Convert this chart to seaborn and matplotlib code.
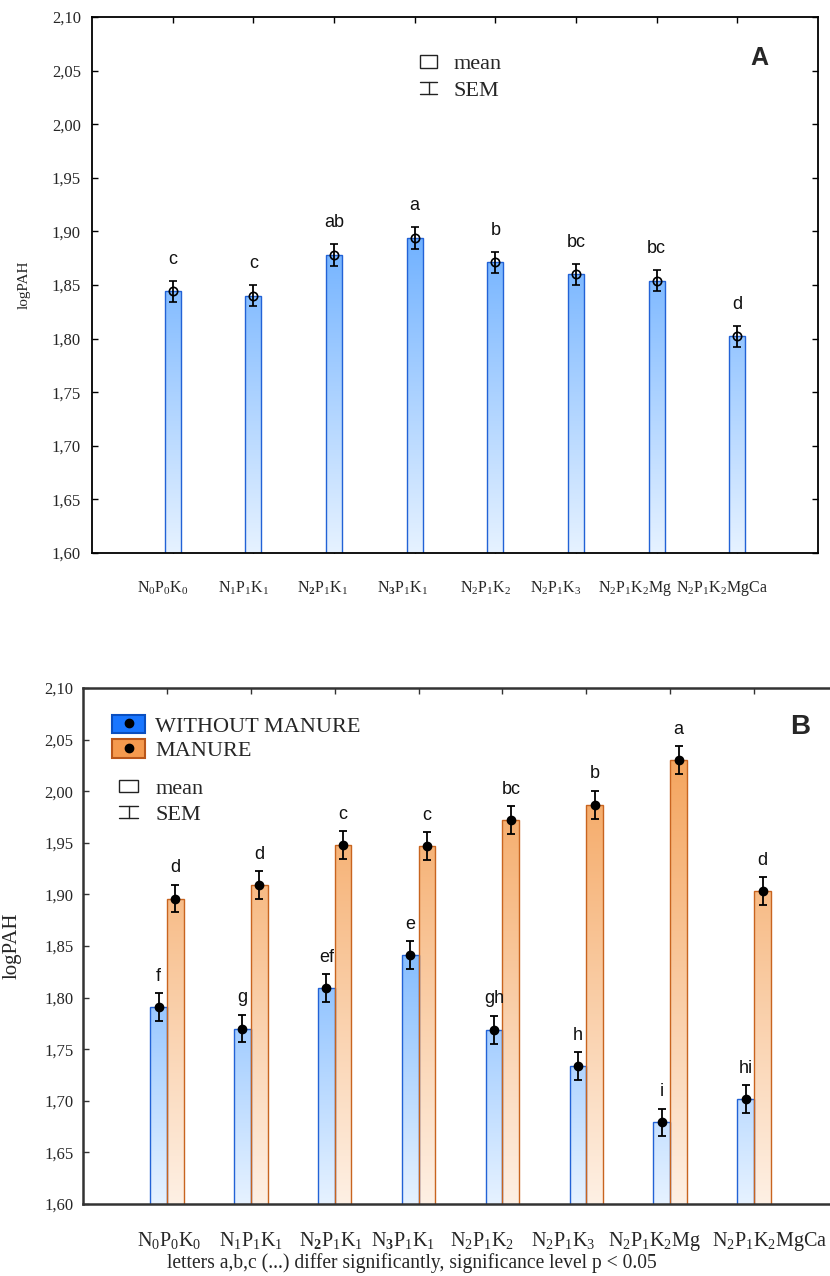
import numpy as np
import pandas as pd
import matplotlib
matplotlib.use("Agg")
import matplotlib.pyplot as plt
import seaborn as sns
from matplotlib.patches import Patch
from matplotlib.lines import Line2D
from matplotlib.ticker import FuncFormatter
from matplotlib.transforms import ScaledTranslation
from matplotlib.legend_handler import HandlerTuple, HandlerBase

# ---------------- data ----------------
categories = ["N0P0K0", "N1P1K1", "N2P1K1", "N3P1K1",
              "N2P1K2", "N2P1K3", "N2P1K2Mg", "N2P1K2MgCa"]
tick_labels = [r"$\mathrm{N_0P_0K_0}$", r"$\mathrm{N_1P_1K_1}$",
               r"$\mathrm{N}_{\mathbf{2}}\mathrm{P_1K_1}$",
               r"$\mathrm{N}_{\mathbf{3}}\mathrm{P_1K_1}$",
               r"$\mathrm{N_2P_1K_2}$", r"$\mathrm{N_2P_1K_3}$",
               r"$\mathrm{N_2P_1K_2Mg}$", r"$\mathrm{N_2P_1K_2MgCa}$"]

# panel A
a_mean = [1.844, 1.840, 1.878, 1.894, 1.871, 1.860, 1.854, 1.802]
a_sem = [0.010, 0.010, 0.010, 0.010, 0.010, 0.010, 0.010, 0.0095]
a_letters = ["c", "c", "ab", "a", "b", "bc", "bc", "d"]

# panel B
groups = ["WITHOUT MANURE", "MANURE"]
wo_mean = [1.791, 1.770, 1.809, 1.841, 1.769, 1.734, 1.679, 1.702]
wo_sem = [0.0135, 0.0135, 0.0135, 0.0135, 0.0135, 0.0135, 0.0135, 0.0135]
wo_letters = ["f", "g", "ef", "e", "gh", "h", "i", "hi"]
m_mean = [1.896, 1.909, 1.948, 1.947, 1.972, 1.987, 2.030, 1.903]
m_sem = [0.0135, 0.0135, 0.0135, 0.0135, 0.0135, 0.0135, 0.0135, 0.0135]
m_letters = ["d", "d", "c", "c", "bc", "b", "a", "d"]

y_ticks = [1.60, 1.65, 1.70, 1.75, 1.80, 1.85, 1.90, 1.95, 2.00, 2.05, 2.10]
caption = "letters a,b,c (...) differ significantly, significance level p < 0.05"

# horizontal nudges of the category labels (pixels), as in the original layout
label_dx_a = [-10, -10, -11, -12, -10, -20, -22, -15]
label_dx_b = [2, 0, -4, -15, -20, -23, -16, 16]

# ---------------- style ----------------
sns.set_style("ticks")
plt.rcParams["font.family"] = ["Liberation Serif", "DejaVu Serif"]
plt.rcParams["font.serif"] = ["Liberation Serif", "DejaVu Serif"]
plt.rcParams["mathtext.fontset"] = "custom"
plt.rcParams["mathtext.rm"] = "Liberation Serif"
plt.rcParams["mathtext.it"] = "Liberation Serif:italic"
plt.rcParams["mathtext.bf"] = "Liberation Serif:bold"

W, H = 830, 1276
fig = plt.figure(figsize=(W / 100, H / 100), dpi=100)
fig.patch.set_facecolor("white")

def fig_rect(l, t, r, b):
    return [l / W, 1 - b / H, (r - l) / W, (b - t) / H]

ax1 = fig.add_axes(fig_rect(92, 17, 818, 553))
ax2 = fig.add_axes(fig_rect(83, 688, 838, 1204))

BLUE_LOW = np.array([230, 242, 255]) / 255
BLUE_HIGH = np.array([30, 132, 255]) / 255
OR_LOW = np.array([254, 240, 228]) / 255
OR_HIGH = np.array([243, 153, 73]) / 255
BLUE_EDGE = "#2262d6"
OR_EDGE = "#c8641f"

def add_gradient(ax, bars, c_low, c_high, y0=1.6, y1=2.1):
    g = np.linspace(0, 1, 256)[:, None, None]
    img = c_low[None, None, :] + (c_high - c_low)[None, None, :] * g
    for bar in bars:
        x0 = bar.get_x()
        w = bar.get_width()
        im = ax.imshow(img, extent=[x0, x0 + w, y0, y1], origin="lower",
                       aspect="auto", interpolation="bilinear", zorder=0.9)
        im.set_clip_path(bar)
        bar.set_facecolor("none")
        bar.set_zorder(1.0)

comma_fmt = FuncFormatter(lambda v, p: f"{v:.2f}".replace(".", ","))

class HandlerSEM(HandlerBase):
    def create_artists(self, legend, orig_handle, xdescent, ydescent,
                       width, height, fontsize, trans):
        x0 = -xdescent
        y0 = -ydescent
        xc = x0 + width / 2
        arts = [Line2D([xc, xc], [y0, y0 + height]),
                Line2D([x0, x0 + width], [y0, y0]),
                Line2D([x0, x0 + width], [y0 + height, y0 + height])]
        for a in arts:
            a.set_color("#222222")
            a.set_linewidth(1.0)
            a.set_transform(trans)
        return arts

sem_handle = Line2D([], [])

def style_axis(ax, xlabsize, xpad, dx, spine_color, spine_w):
    ax.set_xlim(-1, 8)
    ax.set_ylim(1.6, 2.1)
    ax.set_yticks(y_ticks)
    ax.yaxis.set_major_formatter(comma_fmt)
    ax.set_xticks(np.arange(len(categories)))
    ax.set_xticklabels(tick_labels, fontsize=xlabsize)
    ax.set_xlabel("")
    ax.tick_params(axis="both", direction="in", length=4, width=1,
                   top=True, right=True, color=spine_color,
                   labelfontfamily="Liberation Serif")
    ax.tick_params(axis="y", labelsize=12)
    ax.tick_params(axis="x", pad=xpad)
    for lab, d in zip(ax.get_xticklabels(), dx):
        lab.set_transform(lab.get_transform() +
                          ScaledTranslation(d / 100, 0, fig.dpi_scale_trans))
    for sp in ax.spines.values():
        sp.set_linewidth(spine_w)
        sp.set_color(spine_color)

# ---------------- panel A ----------------
df_a = pd.DataFrame({"treatment": categories, "logPAH": a_mean})
sns.barplot(data=df_a, x="treatment", y="logPAH", order=categories,
            width=0.2, color="#6fb0ff", edgecolor=BLUE_EDGE, linewidth=1.0,
            errorbar=None, ax=ax1)
add_gradient(ax1, ax1.patches, BLUE_LOW, BLUE_HIGH)
xa = np.arange(len(categories))
ax1.errorbar(xa, a_mean, yerr=a_sem, fmt="o", color="black", mfc="none",
             mec="black", ms=6, mew=1.2, elinewidth=1.3, capsize=3,
             capthick=1.3, zorder=3)
for x, m, s, t in zip(xa, a_mean, a_sem, a_letters):
    ax1.text(x, m + s + 0.012, t, ha="center", va="bottom",
             fontsize=13, family="Liberation Sans", color="#111111")

ax1.tick_params(axis="y", pad=8)
style_axis(ax1, 11.5, 19, label_dx_a, "black", 1.3)
ax1.set_ylabel("logPAH", fontsize=11, family="Liberation Serif")
ax1.yaxis.set_label_coords(-0.085, 0.5)

ax1.legend([Patch(facecolor="white", edgecolor="#222222", linewidth=1.0),
            sem_handle], ["mean", "SEM"],
           handler_map={Line2D: HandlerSEM()},
           loc="upper left", bbox_to_anchor=(420 / W, 1 - 55 / H),
           bbox_transform=fig.transFigure, frameon=False,
           prop={"family": "Liberation Serif", "size": 16},
           handlelength=0.77, handleheight=0.5, handletextpad=0.75,
           labelspacing=0.33, borderpad=0, borderaxespad=0)
ax1.text(759 / W, 1 - 58 / H, "A", transform=fig.transFigure, ha="center",
         va="center", fontsize=18, fontweight="bold", family="Liberation Sans")

# ---------------- panel B ----------------
df_b = pd.DataFrame({
    "treatment": categories * 2,
    "group": [groups[0]] * len(categories) + [groups[1]] * len(categories),
    "logPAH": wo_mean + m_mean,
})
sns.barplot(data=df_b, x="treatment", y="logPAH", hue="group",
            order=categories, hue_order=groups,
            palette={groups[0]: "#6fb0ff", groups[1]: "#f5a35f"},
            width=0.4, dodge=True, linewidth=1.0, errorbar=None,
            legend=False, ax=ax2)
for cont, ec, lo, hi in zip(ax2.containers, [BLUE_EDGE, OR_EDGE],
                            [BLUE_LOW, OR_LOW], [BLUE_HIGH, OR_HIGH]):
    for bar in cont:
        bar.set_edgecolor(ec)
    add_gradient(ax2, list(cont), lo, hi)

xb = np.arange(len(categories))
for offs, means, sems, letters in [(-0.1, wo_mean, wo_sem, wo_letters),
                                   (0.1, m_mean, m_sem, m_letters)]:
    ax2.errorbar(xb + offs, means, yerr=sems, fmt="o", color="black",
                 ms=6, elinewidth=1.3, capsize=3, capthick=1.3, zorder=3)
    for x, m, s, t in zip(xb + offs, means, sems, letters):
        ax2.text(x, m + s + 0.008, t, ha="center", va="bottom",
                 fontsize=13, family="Liberation Sans", color="#111111")

ax2.tick_params(axis="y", pad=7)
style_axis(ax2, 14.5, 19, label_dx_b, "#333333", 1.8)
ax2.set_ylabel("logPAH", fontsize=15, family="Liberation Serif")
ax2.yaxis.set_label_coords(-0.081, 0.5)

dot = Line2D([], [], marker="o", color="black", ls="none", ms=6)
leg_b1 = ax2.legend([(Patch(facecolor="#1976ff", edgecolor="#0a4fc0", linewidth=1.5), dot),
                     (Patch(facecolor="#f59a4e", edgecolor="#b9561a", linewidth=1.5), dot)],
                    groups, handler_map={tuple: HandlerTuple(ndivide=1, pad=0)},
                    loc="upper left", bbox_to_anchor=(112 / W, 1 - 715 / H),
                    bbox_transform=fig.transFigure, frameon=False,
                    prop={"family": "Liberation Serif", "size": 16},
                    handlelength=1.5, handleheight=0.9, handletextpad=0.45,
                    labelspacing=0.1, borderpad=0, borderaxespad=0)
ax2.add_artist(leg_b1)
ax2.legend([Patch(facecolor="white", edgecolor="#222222", linewidth=1.0),
            sem_handle], ["mean", "SEM"],
           handler_map={Line2D: HandlerSEM()},
           loc="upper left", bbox_to_anchor=(119 / W, 1 - 780 / H),
           bbox_transform=fig.transFigure, frameon=False,
           prop={"family": "Liberation Serif", "size": 16},
           handlelength=0.86, handleheight=0.45, handletextpad=0.77,
           labelspacing=0.3, borderpad=0, borderaxespad=0)
ax2.text(800 / W, 1 - 727 / H, "B", transform=fig.transFigure, ha="center",
         va="center", fontsize=20, fontweight="bold", family="Liberation Sans")

fig.text(167 / W, 1 - 1263 / H, caption, ha="left", va="center",
         fontsize=14.1, family="Liberation Serif")

fig.savefig("out.png", dpi=100)
